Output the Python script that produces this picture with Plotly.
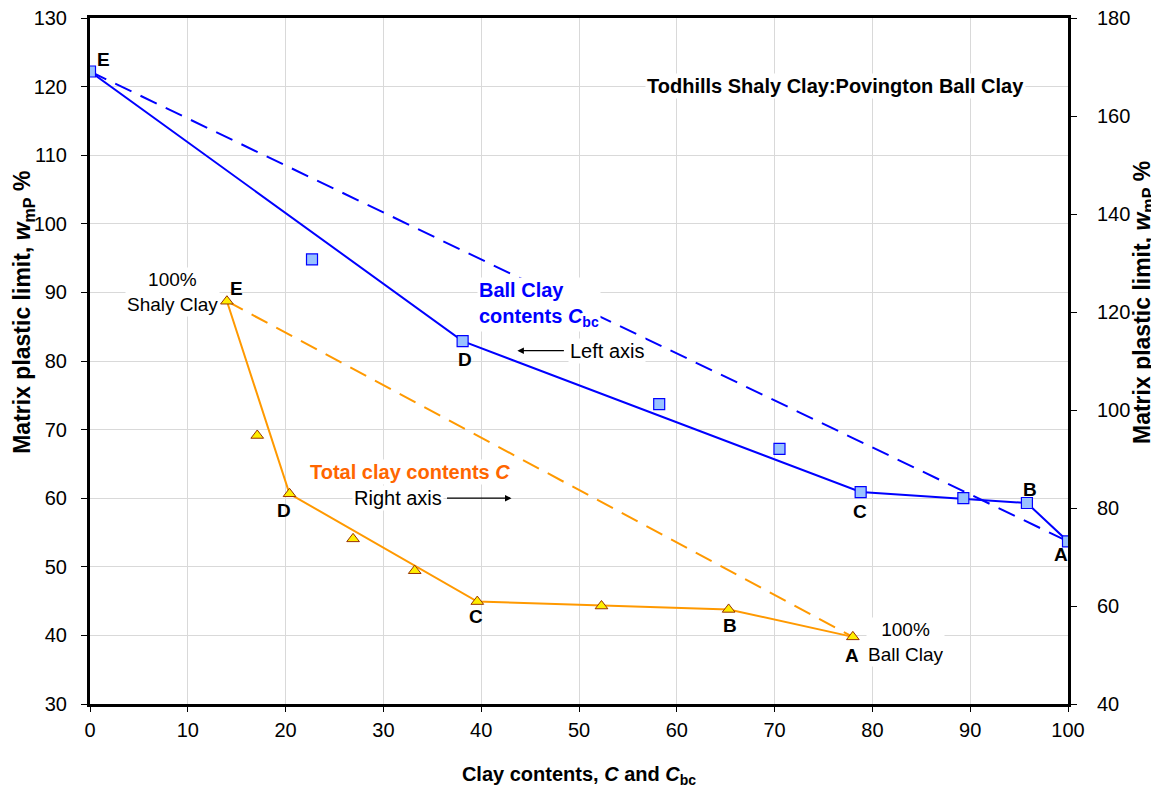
import plotly.graph_objects as go

# matrix plastic limit w_mP (%) - same values for both series
wmp = [122.2, 94.8, 82.9, 73.7, 67.2, 60.9, 60.0, 59.3, 53.7]
# ball clay contents C_bc (left axis series)
c_bc = [0, 22.7, 38.1, 58.2, 70.5, 78.8, 89.3, 95.8, 100]
# total clay contents C (right axis series)
c_tot = [14.0, 17.1, 20.4, 26.9, 33.2, 39.6, 52.3, 65.3, 78.0]
# key mixes joined by the solid lines
key_idx = [0, 2, 5, 7, 8]
key_labels = ['E', 'D', 'C', 'B', 'A']

BLUE = '#0000ff'
ORANGE = '#ff9900'
FONT = 'Liberation Sans, Arial, sans-serif'
DASH = '18px,10px'

fig = go.Figure()

# blue: ball clay contents, left axis
fig.add_trace(go.Scatter(x=[c_bc[0], c_bc[-1]], y=[wmp[0], wmp[-1]], mode='lines',
                         line=dict(color=BLUE, width=2, dash=DASH), showlegend=False))
fig.add_trace(go.Scatter(x=[c_bc[i] for i in key_idx], y=[wmp[i] for i in key_idx], mode='lines',
                         line=dict(color=BLUE, width=2), showlegend=False))
fig.add_trace(go.Scatter(x=c_bc, y=wmp, mode='markers',
                         marker=dict(symbol='square', size=11, color='#99c2ff',
                                     line=dict(color=BLUE, width=1.2)), showlegend=False))

# orange: total clay contents, right axis
fig.add_trace(go.Scatter(x=[c_tot[0], c_tot[-1]], y=[wmp[0], wmp[-1]], mode='lines', yaxis='y2',
                         line=dict(color=ORANGE, width=2, dash=DASH), showlegend=False))
fig.add_trace(go.Scatter(x=[c_tot[i] for i in key_idx], y=[wmp[i] for i in key_idx], mode='lines',
                         yaxis='y2', line=dict(color=ORANGE, width=2), showlegend=False))
fig.add_trace(go.Scatter(x=c_tot, y=wmp, mode='markers', yaxis='y2',
                         marker=dict(symbol='triangle-up', size=11, color='#ffee00',
                                     line=dict(color='#993300', width=1)), showlegend=False))

# point letters
blue_shift = [(13, 12), (2, -18), (-1, -19), (3, 14), (-7, -13)]
orange_shift = [(10, 13), (-6, -17), (-1, -15), (1, -16), (-1, -19)]
for k, i in enumerate(key_idx):
    fig.add_annotation(x=c_bc[i], y=wmp[i], text=key_labels[k], showarrow=False,
                       xshift=blue_shift[k][0], yshift=blue_shift[k][1],
                       font=dict(size=19, color='black', family=FONT, weight='bold'))
    fig.add_annotation(x=c_tot[i], y=wmp[i], yref='y2', text=key_labels[k], showarrow=False,
                       xshift=orange_shift[k][0], yshift=orange_shift[k][1],
                       font=dict(size=19, color='black', family=FONT, weight='bold'))

# text boxes
fig.add_annotation(x=76.2, y=120.1, text='<b>Todhills Shaly Clay:Povington Ball Clay</b>',
                   showarrow=False, bgcolor='white', font=dict(size=20, color='black', family=FONT))
fig.add_annotation(x=39.6, y=88.2, xanchor='left', align='left',
                   text='<b>Ball Clay<br>contents <i>C</i><sub>bc</sub></b>',
                   showarrow=False, bgcolor='white', font=dict(size=20, color=BLUE, family=FONT))
fig.add_annotation(x=32.7, y=63.8, text='<b>Total clay contents <i>C</i></b>',
                   showarrow=False, bgcolor='white', font=dict(size=20, color='#ff6600', family=FONT))
fig.add_annotation(x=8.4, y=90.0, text='100%<br>Shaly Clay', showarrow=False, bgcolor='white',
                   font=dict(size=19, color='black', family=FONT))
fig.add_annotation(x=83.4, y=39.0, text='100%<br>Ball Clay', showarrow=False, bgcolor='white',
                   font=dict(size=19, color='black', family=FONT))

# axis pointers
fig.add_annotation(x=52.9, y=81.5, text='Left axis', showarrow=False, bgcolor='white',
                   font=dict(size=20, color='black', family=FONT))
fig.add_annotation(x=43.7, y=81.5, ax=48, ay=0, text='', showarrow=True,
                   arrowhead=2, arrowsize=1, arrowwidth=1.3, arrowcolor='black')
fig.add_annotation(x=31.5, y=60.0, text='Right axis', showarrow=False, bgcolor='white',
                   font=dict(size=20, color='black', family=FONT))
fig.add_annotation(x=43.1, y=60.0, ax=-66, ay=0, text='', showarrow=True,
                   arrowhead=2, arrowsize=1, arrowwidth=1.3, arrowcolor='black')

# y axis titles (placed as in the original, not centred on the axes)
ytitle = '<b>Matrix plastic limit, <i>w</i><sub>mP</sub> %</b>'
fig.add_annotation(xref='paper', yref='paper', x=-0.068, y=0.571, text=ytitle, textangle=-90,
                   xanchor='center', yanchor='middle', showarrow=False,
                   font=dict(size=23, color='black', family=FONT))
fig.add_annotation(xref='paper', yref='paper', x=1.077, y=0.585, text=ytitle, textangle=-90,
                   xanchor='center', yanchor='middle', showarrow=False,
                   font=dict(size=23, color='black', family=FONT))

fig.update_layout(
    width=1159, height=792,
    margin=dict(l=82, r=99, t=10, b=96),
    paper_bgcolor='white', plot_bgcolor='white',
    font=dict(family=FONT, size=20, color='black'),
    xaxis=dict(range=[0, 100], dtick=10, showgrid=True, gridcolor='#d9d9d9', gridwidth=1,
               showline=True, mirror=True, linecolor='black', linewidth=3, ticks='outside',
               ticklen=5, tickcolor='black', ticklabelstandoff=1, zeroline=False,
               automargin=False,
               title=dict(text='<b>Clay contents, <i>C</i> and <i>C</i><sub>bc</sub></b>',
                          font=dict(size=20), standoff=27)),
    yaxis=dict(range=[30, 130], dtick=10, showgrid=True, gridcolor='#d9d9d9', gridwidth=1,
               showline=True, linecolor='black', linewidth=3, ticks='outside', ticklen=6,
               tickcolor='black', ticklabelstandoff=10, zeroline=False, automargin=False,
               ticklabeloverflow='allow'),
    yaxis2=dict(range=[40, 180], dtick=20, overlaying='y', side='right', showgrid=False,
                showline=True, linecolor='black', linewidth=3, ticks='outside', ticklen=6,
                tickcolor='black', ticklabelstandoff=16, zeroline=False, automargin=False,
                ticklabeloverflow='allow'),
)

fig.write_html("out.html")
